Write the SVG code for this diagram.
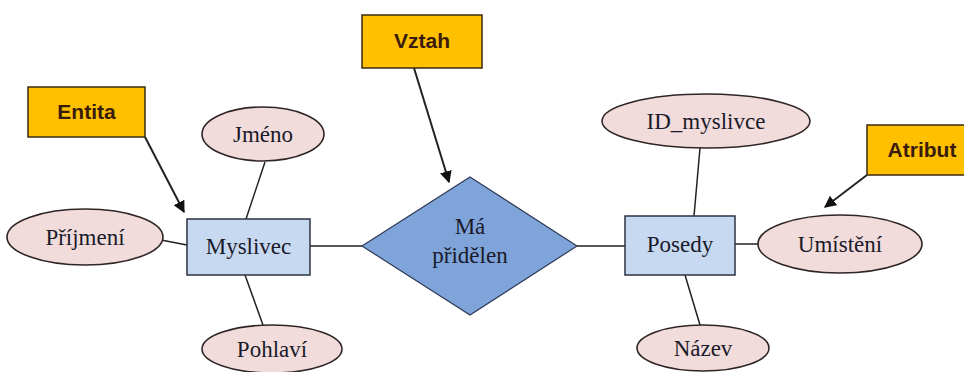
<svg xmlns="http://www.w3.org/2000/svg" width="964" height="372" viewBox="0 0 964 372">
<style>
.bg{fill:#ffffff}
.call{fill:#FFC000;stroke:#3a2a10;stroke-width:1.5}
.callt{font-family:"Liberation Sans",sans-serif;font-weight:bold;font-size:21px;fill:#3a1c0c;text-anchor:middle}
.ent{fill:#C6D9F1;stroke:#2e3340;stroke-width:1.5}
.rel{fill:#7FA4DA;stroke:#2e3a55;stroke-width:1.2}
.att{fill:#F2DCDB;stroke:#2f2525;stroke-width:1.6}
.lbl{font-family:"Liberation Serif",serif;font-size:23px;fill:#1a1a2a;text-anchor:middle}
.ln{stroke:#222;stroke-width:1.5;fill:none}
.arr{stroke:#222;stroke-width:2;fill:none;marker-end:url(#ah)}
</style>
<defs>
<marker id="ah" viewBox="0 0 10 10" refX="9" refY="5" markerWidth="6" markerHeight="6" orient="auto" markerUnits="strokeWidth">
<path d="M0,0 L10,5 L0,10 z" fill="#111"/>
</marker>
</defs>
<rect class="bg" x="0" y="0" width="964" height="372"/>
<g id="connectors">
<line class="ln" x1="265" y1="162" x2="246" y2="219"/>
<line class="ln" x1="161" y1="240" x2="187" y2="245"/>
<line class="ln" x1="245" y1="275" x2="263" y2="325"/>
<line class="ln" x1="310" y1="246" x2="362" y2="246"/>
<line class="ln" x1="577" y1="246" x2="625" y2="246"/>
<line class="ln" x1="700" y1="148" x2="694" y2="216"/>
<line class="ln" x1="735" y1="244" x2="758" y2="244"/>
<line class="ln" x1="685" y1="275" x2="700" y2="325"/>
<line class="arr" x1="145" y1="137" x2="184" y2="212"/>
<line class="arr" x1="414" y1="68" x2="449" y2="182"/>
<line class="arr" x1="867" y1="175" x2="825" y2="207"/>
</g>
<g id="entita">
<rect class="call" x="28" y="87" width="117" height="50"/>
<text class="callt" x="86.5" y="119">Entita</text>
</g>
<g id="vztah">
<rect class="call" x="362" y="15" width="120" height="53"/>
<text class="callt" x="422" y="48">Vztah</text>
</g>
<g id="atribut">
<rect class="call" x="867" y="125" width="110" height="50"/>
<text class="callt" x="922" y="157">Atribut</text>
</g>
<g id="myslivec">
<rect class="ent" x="187" y="219" width="123" height="56"/>
<text class="lbl" x="248.5" y="254">Myslivec</text>
</g>
<g id="ma-pridelen">
<polygon class="rel" points="470,177 577,246 470,315 362,246"/>
<text class="lbl" x="470" y="234">Má</text>
<text class="lbl" x="470" y="263">přidělen</text>
</g>
<g id="posedy">
<rect class="ent" x="625" y="216" width="110" height="59"/>
<text class="lbl" x="680" y="252">Posedy</text>
</g>
<g id="jmeno">
<ellipse class="att" cx="263" cy="134" rx="61" ry="27"/>
<text class="lbl" x="263" y="142">Jméno</text>
</g>
<g id="prijmeni">
<ellipse class="att" cx="85" cy="237" rx="78" ry="28"/>
<text class="lbl" x="85" y="245">Příjmení</text>
</g>
<g id="pohlavi">
<ellipse class="att" cx="272" cy="349" rx="70" ry="24"/>
<text class="lbl" x="272" y="357">Pohlaví</text>
</g>
<g id="id-myslivce">
<ellipse class="att" cx="706" cy="121" rx="104" ry="27"/>
<text class="lbl" x="706" y="129">ID_myslivce</text>
</g>
<g id="umisteni">
<ellipse class="att" cx="840" cy="244" rx="82" ry="29"/>
<text class="lbl" x="840" y="252">Umístění</text>
</g>
<g id="nazev">
<ellipse class="att" cx="703" cy="348" rx="66" ry="23"/>
<text class="lbl" x="703" y="356">Název</text>
</g>
</svg>
